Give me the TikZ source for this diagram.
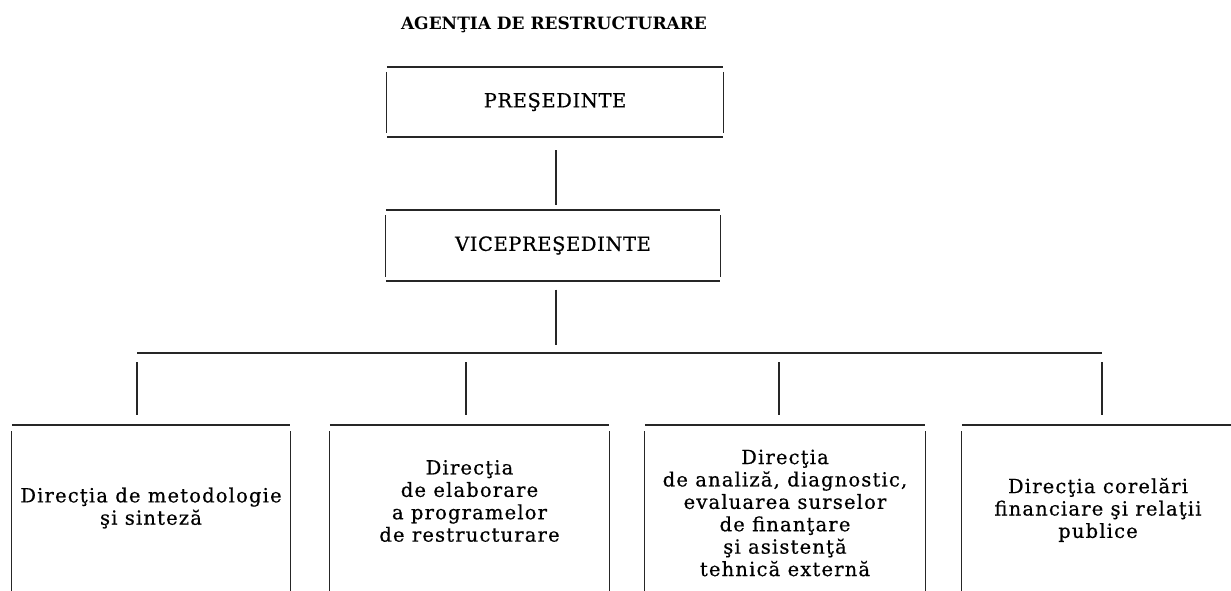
\documentclass[tikz,border=0pt]{standalone}
\usepackage{fontspec}
\setmainfont{DejaVu Serif}
\newfontfamily\spacedfont[LetterSpace=6,FakeBold=0.6]{DejaVu Serif}
\newfontfamily\capsfont[LetterSpace=3,FakeBold=0.6]{DejaVu Serif}
\usetikzlibrary{calc}
\tikzset{
  hline/.style={line width=1.8pt, black!85},
  vline/.style={line width=1.3pt, black!85},
  conn/.style={line width=1.2pt, black!85},
  topbox/.style={draw=none, minimum width=#1, minimum height=70pt, inner sep=0pt, font=\capsfont\fontsize{19.5}{22}\selectfont},
  dirbox/.style={draw=none, minimum width=#1, inner sep=0pt, align=center, font=\spacedfont\fontsize{19.5}{22.4}\selectfont},
  titlefont/.style={font=\bfseries\fontsize{17}{20}\selectfont}
}
\newcommand{\closedframe}[1]{%
  \draw[hline] (#1.north west) -- (#1.north east);
  \draw[hline] (#1.south west) -- (#1.south east);
  \draw[vline] ([yshift=-5pt]#1.north west) -- ([yshift=4pt]#1.south west);
  \draw[vline] ([yshift=-5pt]#1.north east) -- ([yshift=4pt]#1.south east);
}
\newcommand{\openframe}[1]{%
  \draw[hline] (#1.west |- tl) -- (#1.east |- tl);
  \draw[vline] ([yshift=-6pt]#1.west |- tl) -- (#1.west |- bl);
  \draw[vline] ([yshift=-6pt]#1.east |- tl) -- (#1.east |- bl);
}
\begin{document}
\begin{tikzpicture}[x=1pt,y=-1pt]
\useasboundingbox (0,0) rectangle (1231,590);
\node[titlefont] (title) at (554,25) {AGENŢIA DE RESTRUCTURARE};
\node[topbox=336pt] (pres) at (555,102) {PREŞEDINTE};
\node[topbox=334pt] (vice) at (553,245.5) {VICEPREŞEDINTE};
\closedframe{pres}
\closedframe{vice}
\coordinate (tl) at (0,425);
\coordinate (bl) at (0,600);
\coordinate (bus) at (556,353);
\coordinate (busL) at (137,353);
\coordinate (busR) at (1102,353);
\coordinate (d1) at (137,353);
\coordinate (d2) at (466,353);
\coordinate (d3) at (779,353);
\coordinate (d4) at (1102,353);
\coordinate (pv) at (556,0);
\node[dirbox=278pt] (b1) at (151,508) {Direcţia de metodologie\\şi sinteză};
\node[dirbox=279pt] (b2) at (469.5,501) {Direcţia\\de elaborare\\a programelor\\de restructurare};
\node[dirbox=280pt] (b3) at (785,513) {Direcţia\\de analiză, diagnostic,\\evaluarea surselor\\de finanţare\\şi asistenţă\\tehnică externă};
\node[dirbox=272pt] (b4) at (1098,510) {Direcţia corelări\\financiare şi relaţii\\publice};
\openframe{b1}
\openframe{b2}
\openframe{b3}
\openframe{b4}
\draw[conn, shorten <=13pt, shorten >=5pt] (pv |- pres.south) -- (pv |- vice.north);
\draw[conn, shorten <=9pt, shorten >=8pt] (pv |- vice.south) -- (bus);
\draw[hline] (busL) -- (busR);
\foreach \d/\b in {d1/b1,d2/b2,d3/b3,d4/b4}{
  \draw[conn, shorten <=9pt, shorten >=10pt] (\d) -- (\d |- tl);
}
\end{tikzpicture}
\end{document}
